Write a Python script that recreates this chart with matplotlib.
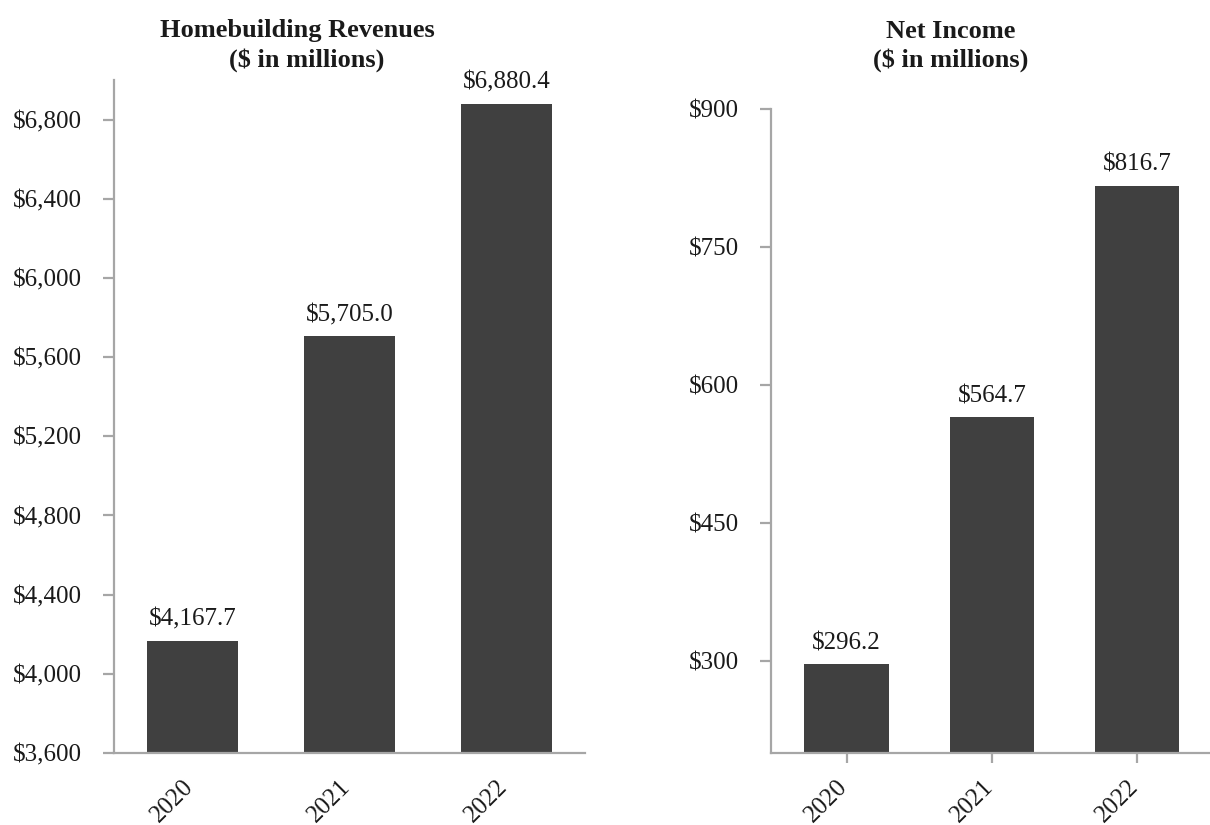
import numpy as np
import matplotlib.pyplot as plt
from matplotlib.transforms import ScaledTranslation

plt.rcParams['font.family'] = ['Liberation Serif', 'DejaVu Serif']

years = ['2020', '2021', '2022']
revenues = [4167.7, 5705.0, 6880.4]
net_income = [296.2, 564.7, 816.7]

rev_ticks = [3600, 4000, 4400, 4800, 5200, 5600, 6000, 6400, 6800]
inc_ticks = [300, 450, 600, 750, 900]

bar_color = '#404040'
axis_color = '#a6a6a6'
text_color = '#1a1a1a'

fig = plt.figure(figsize=(12.1, 8.25), dpi=100)
ax1 = fig.add_axes([114 / 1210, 72 / 825, 471 / 1210, 673 / 825])
ax2 = fig.add_axes([771 / 1210, 72 / 825, 439 / 1210, 644 / 825])


def style_axes(ax, show_xticks):
    for side in ['top', 'right']:
        ax.spines[side].set_visible(False)
    for side in ['left', 'bottom']:
        ax.spines[side].set_color(axis_color)
        ax.spines[side].set_linewidth(1.6)
    ax.tick_params(axis='y', length=8, width=1.6, color=axis_color,
                   pad=15, labelsize=18, labelcolor=text_color)
    ax.tick_params(axis='x', length=7 if show_xticks else 0, width=1.6,
                   color=axis_color, pad=16 if not show_xticks else 9,
                   labelsize=18, labelcolor=text_color)
    # nudge the slanted year labels so they end right at the tick
    shift = ScaledTranslation(-10 / 100, 0, fig.dpi_scale_trans)
    for lab in ax.get_xticklabels():
        lab.set_rotation(45)
        lab.set_ha('right')
        lab.set_va('top')
        lab.set_rotation_mode('anchor')
        lab.set_transform(lab.get_transform() + shift)


def label_bars(ax, bars, values, fmt):
    for b, v in zip(bars, values):
        ax.annotate(fmt.format(v), (b.get_x() + b.get_width() / 2, v),
                    xytext=(0, 11), textcoords='offset points',
                    ha='center', va='baseline', fontsize=18, color=text_color)


x = np.arange(len(years))

# Homebuilding revenues
bars1 = ax1.bar(x, revenues, width=0.58, color=bar_color, zorder=2)
ax1.set_xlim(-0.5, 2.5)
ax1.set_ylim(3600, 7000)
ax1.set_yticks(rev_ticks)
ax1.set_yticklabels(['${:,}'.format(t) for t in rev_ticks])
ax1.set_xticks(x)
ax1.set_xticklabels(years)
style_axes(ax1, False)
label_bars(ax1, bars1, revenues, '${:,.1f}')

# Net income
bars2 = ax2.bar(x, net_income, width=0.58, color=bar_color, zorder=2)
ax2.set_xlim(-0.52, 2.5)
ax2.set_ylim(200, 900)
ax2.set_yticks(inc_ticks)
ax2.set_yticklabels(['${:,}'.format(t) for t in inc_ticks])
ax2.set_xticks(x)
ax2.set_xticklabels(years)
style_axes(ax2, True)
label_bars(ax2, bars2, net_income, '${:,.1f}')

# two-line bold titles
title_kw = dict(ha='center', va='baseline', fontsize=19, fontweight='bold',
                color=text_color)
fig.text(297 / 1210, 1 - 37.5 / 825, 'Homebuilding Revenues', **title_kw)
fig.text(307 / 1210, 1 - 67 / 825, '($ in millions)', **title_kw)
fig.text(951 / 1210, 1 - 37.5 / 825, 'Net Income', **title_kw)
fig.text(951 / 1210, 1 - 67 / 825, '($ in millions)', **title_kw)

fig.savefig('out.png', dpi=100)
